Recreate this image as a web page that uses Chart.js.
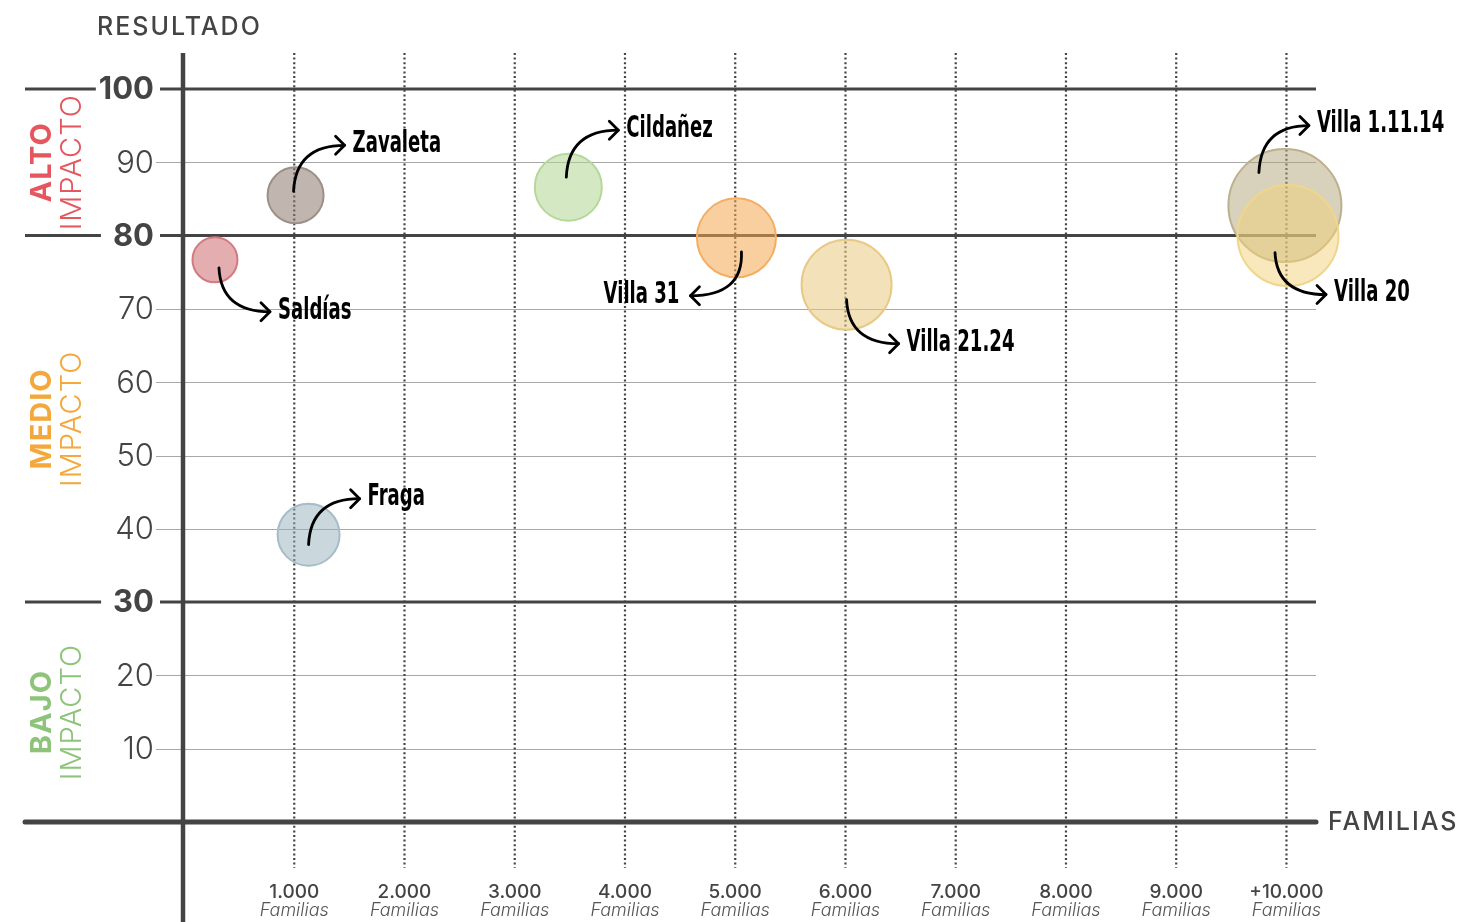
<!DOCTYPE html>
<html>
<head>
<meta charset="utf-8">
<script src="https://cdn.jsdelivr.net/npm/chart.js@4.4.1/dist/chart.umd.min.js"></script>
<style>
  html, body { margin: 0; padding: 0; background: #fff; }
  canvas { display: block; }
</style>
</head>
<body>
<canvas id="impacto" width="1468" height="922"></canvas>
<script>
// barrios, cantidad de familias, resultado (0-100) y tamaño de la burbuja
const barrios = ["Saldías", "Zavaleta", "Fraga", "Cildañez", "Villa 31", "Villa 21.24", "Villa 1.11.14", "Villa 20"];
const familias = [281, 1012, 1130, 3486, 5011, 6010, 9986, 10014];
const resultado = [76.7, 85.5, 39.2, 86.6, 79.7, 73.3, 84.1, 80.0];
const tamanios = [22.5, 28, 31, 33.5, 39.5, 45, 56.5, 50.5];

const yTicks = [10, 20, 30, 40, 50, 60, 70, 80, 90, 100];
const yTicksFuertes = [30, 80, 100];
const xTicks = [1000, 2000, 3000, 4000, 5000, 6000, 7000, 8000, 9000, 10000];
const xTickLabels = ["1.000", "2.000", "3.000", "4.000", "5.000", "6.000", "7.000", "8.000", "9.000", "+10.000"];

const bandas = ["ALTO", "MEDIO", "BAJO"];
const bandasDesde = [80, 30, 0];
const bandasHasta = [100, 80, 30];

// estilos
const rellenos = [
  "rgba(205,105,112,0.55)", "rgba(140,122,110,0.55)", "rgba(150,175,188,0.5)", "rgba(178,214,148,0.55)",
  "rgba(246,168,82,0.55)", "rgba(234,200,130,0.55)", "rgba(178,164,120,0.5)", "rgba(242,210,120,0.5)"
];
const bordes = ["#d27a80", "#9e8f86", "#a6bcc6", "#b4d89a", "#f4ae62", "#e8c986", "#bdb08c", "#f0d68a"];
const coloresBanda = ["#e6565f", "#f4a83c", "#8dc47a"];
const gris = "#444";

// flechas: salida y llegada en px relativas al centro de cada burbuja
const flechas = [
  { sx: 4, sy: 8, ex: 55, ey: 52, dir: 1 },
  { sx: -2, sy: -4, ex: 49, ey: -50, dir: 1 },
  { sx: 0, sy: 10, ex: 51, ey: -36, dir: 1 },
  { sx: -2, sy: -10, ex: 50, ey: -57, dir: 1 },
  { sx: 5, sy: 14, ex: -46, ey: 58, dir: -1 },
  { sx: 0, sy: 15, ex: 52, ey: 59, dir: 1 },
  { sx: -26, sy: -33, ex: 24, ey: -80, dir: 1 },
  { sx: -13, sy: 17, ex: 38, ey: 59, dir: 1 }
];

const SANS = "Inter, 'Noto Sans', sans-serif";
const MANO = "'DejaVu Sans Condensed', 'DejaVu Sans', sans-serif";

const fondo = {
  id: "fondo",
  beforeDatasetsDraw(chart) {
    const { ctx, chartArea, scales: { x, y } } = chart;
    const izq = 25, der = chartArea.right;
    const x0 = x.getPixelForValue(0);
    ctx.save();

    // líneas finas
    ctx.strokeStyle = "#a8a8a8";
    ctx.lineWidth = 1;
    yTicks.filter(v => !yTicksFuertes.includes(v)).forEach(v => {
      const py = Math.round(y.getPixelForValue(v)) + 0.5;
      ctx.beginPath();
      ctx.moveTo(156, py);
      ctx.lineTo(der, py);
      ctx.stroke();
    });

    // verticales punteadas
    ctx.strokeStyle = gris;
    ctx.lineWidth = 2.2;
    ctx.setLineDash([2, 2.6]);
    xTicks.forEach(v => {
      const px = x.getPixelForValue(v);
      ctx.beginPath();
      ctx.moveTo(px, chartArea.top);
      ctx.lineTo(px, 868);
      ctx.stroke();
    });
    ctx.setLineDash([]);

    // etiquetas del eje y
    ctx.textAlign = "right";
    ctx.textBaseline = "middle";
    yTicks.forEach(v => {
      const fuerte = yTicksFuertes.includes(v);
      ctx.font = (fuerte ? "700 " : "300 ") + "31px " + SANS;
      ctx.fillStyle = gris;
      const py = y.getPixelForValue(v);
      const derTxt = 154;
      ctx.fillText(String(v), derTxt, py + 1);
      if (fuerte) {
        const w = ctx.measureText(String(v)).width;
        ctx.strokeStyle = gris;
        ctx.lineWidth = 3;
        ctx.beginPath();
        ctx.moveTo(izq, py);
        ctx.lineTo(derTxt - w - (v === 100 ? 3 : 12), py);
        ctx.moveTo(derTxt + 6, py);
        ctx.lineTo(der, py);
        ctx.stroke();
      }
    });

    // ejes
    ctx.strokeStyle = gris;
    ctx.lineCap = "round";
    ctx.lineWidth = 5;
    ctx.beginPath();
    ctx.moveTo(izq, y.getPixelForValue(0));
    ctx.lineTo(der, y.getPixelForValue(0));
    ctx.stroke();
    ctx.lineCap = "butt";
    ctx.lineWidth = 4.5;
    ctx.beginPath();
    ctx.moveTo(x0 - 1, chartArea.top);
    ctx.lineTo(x0 - 1, chartArea.bottom);
    ctx.stroke();

    // etiquetas del eje x
    ctx.textAlign = "center";
    xTicks.forEach((v, i) => {
      const px = x.getPixelForValue(v);
      ctx.fillStyle = gris;
      ctx.font = "500 19px " + SANS;
      ctx.fillText(xTickLabels[i], px, 892);
      ctx.fillStyle = "#555";
      ctx.font = "italic 300 18px " + SANS;
      ctx.fillText("Familias", px, 911);
    });

    // títulos
    ctx.fillStyle = gris;
    ctx.font = "500 25px " + SANS;
    ctx.letterSpacing = "2px";
    ctx.textAlign = "left";
    ctx.fillText("RESULTADO", 97, 27);
    ctx.fillText("FAMILIAS", 1328, 822);

    // bandas de impacto
    ctx.letterSpacing = "1px";
    bandas.forEach((b, i) => {
      const py = (y.getPixelForValue(bandasDesde[i]) + y.getPixelForValue(bandasHasta[i])) / 2;
      ctx.save();
      ctx.translate(0, py);
      ctx.rotate(-Math.PI / 2);
      ctx.textAlign = "center";
      ctx.fillStyle = coloresBanda[i];
      ctx.font = "700 29px " + SANS;
      ctx.fillText(b, 0, 42);
      ctx.font = "300 29px " + SANS;
      ctx.fillText("IMPACTO", 0, 72);
      ctx.restore();
    });
    ctx.letterSpacing = "0px";

    ctx.restore();
  },
  afterDatasetsDraw(chart) {
    const { ctx } = chart;
    const meta = chart.getDatasetMeta(0);
    ctx.save();
    ctx.strokeStyle = "#000";
    ctx.fillStyle = "#000";
    ctx.lineWidth = 2.8;
    ctx.lineCap = "round";
    ctx.lineJoin = "round";
    meta.data.forEach((el, i) => {
      const f = flechas[i];
      const sx = el.x + f.sx, sy = el.y + f.sy;
      const ex = el.x + f.ex, ey = el.y + f.ey;
      ctx.beginPath();
      ctx.moveTo(sx, sy);
      ctx.quadraticCurveTo(sx + 2, ey, ex, ey);
      ctx.stroke();
      ctx.beginPath();
      ctx.moveTo(ex - 9 * f.dir, ey - 9);
      ctx.lineTo(ex, ey);
      ctx.lineTo(ex - 9 * f.dir, ey + 9);
      ctx.stroke();

      // texto manuscrito, comprimido a lo ancho
      ctx.save();
      ctx.font = "bold 30px " + MANO;
      ctx.textBaseline = "middle";
      const w = ctx.measureText(barrios[i]).width * 0.67;
      const tx = f.dir > 0 ? ex + 8 : ex - 11 - w;
      ctx.translate(tx, ey - 1);
      ctx.scale(0.67, 1);
      ctx.textAlign = "left";
      ctx.fillText(barrios[i], 0, 0);
      ctx.restore();
    });
    ctx.restore();
  }
};

new Chart(document.getElementById("impacto"), {
  type: "bubble",
  data: {
    datasets: [{
      data: barrios.map((b, i) => ({ x: familias[i], y: resultado[i], r: tamanios[i] })),
      backgroundColor: rellenos,
      borderColor: bordes,
      borderWidth: 2,
      clip: false
    }]
  },
  options: {
    responsive: false,
    devicePixelRatio: 1,
    animation: false,
    events: [],
    layout: { autoPadding: false, padding: { left: 184, right: 152, top: 53, bottom: 0 } },
    scales: {
      x: { type: "linear", min: 0, max: 10268, display: false },
      y: { type: "linear", min: -13.64, max: 104.91, display: false }
    },
    plugins: { legend: { display: false }, tooltip: { enabled: false } }
  },
  plugins: [fondo]
});
</script>
</body>
</html>
